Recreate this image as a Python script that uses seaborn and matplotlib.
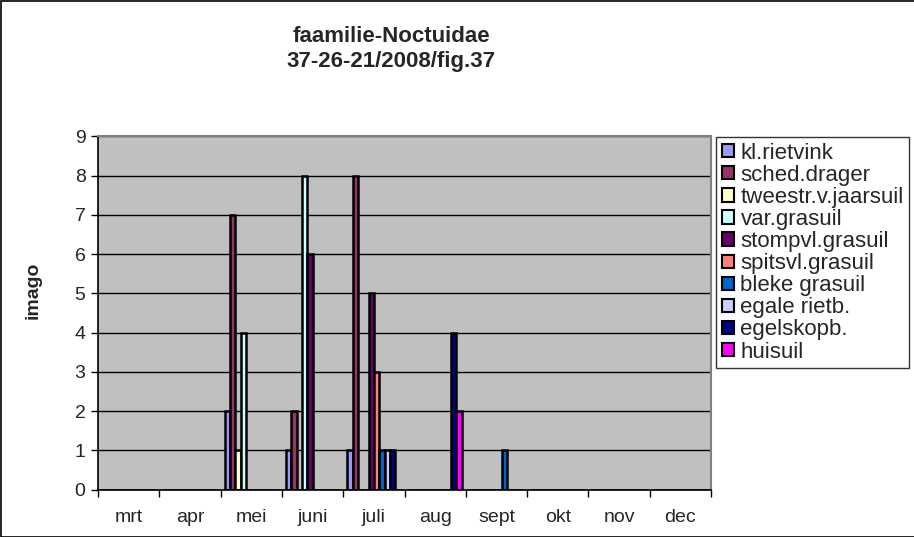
import matplotlib
matplotlib.use("Agg")
import matplotlib.pyplot as plt
import seaborn as sns
import pandas as pd
import numpy as np
from matplotlib.patches import Rectangle

months = ["mrt", "apr", "mei", "juni", "juli", "aug", "sept", "okt", "nov", "dec"]
series = ["kl.rietvink", "sched.drager", "tweestr.v.jaarsuil", "var.grasuil",
          "stompvl.grasuil", "spitsvl.grasuil", "bleke grasuil", "egale rietb.",
          "egelskopb.", "huisuil"]
kl_rietvink   = [0, 0, 2, 1, 1, 0, 0, 0, 0, 0]
sched_drager  = [0, 0, 7, 2, 8, 0, 0, 0, 0, 0]
tweestr       = [0, 0, 1, 0, 0, 0, 0, 0, 0, 0]
var_grasuil   = [0, 0, 4, 8, 0, 0, 0, 0, 0, 0]
stompvl       = [0, 0, 0, 6, 5, 0, 0, 0, 0, 0]
spitsvl       = [0, 0, 0, 0, 3, 0, 0, 0, 0, 0]
bleke         = [0, 0, 0, 0, 1, 0, 1, 0, 0, 0]
egale         = [0, 0, 0, 0, 1, 0, 0, 0, 0, 0]
egelskop      = [0, 0, 0, 0, 1, 4, 0, 0, 0, 0]
huisuil       = [0, 0, 0, 0, 0, 2, 0, 0, 0, 0]
values = [kl_rietvink, sched_drager, tweestr, var_grasuil, stompvl, spitsvl,
          bleke, egale, egelskop, huisuil]
colors = ["#9999FF", "#993366", "#FFFFCC", "#CCFFFF", "#660066", "#FF8080",
          "#0066CC", "#CCCCFF", "#000080", "#FF00FF"]

rows = []
for s, vals in zip(series, values):
    for m, v in zip(months, vals):
        rows.append({"maand": m, "soort": s, "imago": v})
df = pd.DataFrame(rows)

sns.set_theme(style="white")
plt.rcParams["font.family"] = ["Liberation Sans", "DejaVu Sans"]

fig = plt.figure(figsize=(9.14, 5.37), dpi=100)
ax = fig.add_axes([98 / 914, 1 - 489.5 / 537, (711 - 98) / 914, (489.5 - 136.5) / 537])
ax.set_facecolor("#C0C0C0")

sns.barplot(data=df, x="maand", y="imago", hue="soort", order=months,
            hue_order=series, palette=colors, width=10 / 11.5,
            edgecolor="black", linewidth=1.8, saturation=1, ax=ax, legend=False)

ax.set_ylim(0, 9)
ax.set_xlim(-0.5, 9.5)
ax.set_yticks(range(0, 10))
ax.yaxis.grid(True, color="black", linewidth=1.0)
ax.set_axisbelow(True)
ax.tick_params(axis="y", which="major", direction="out", length=5, width=1,
               color="black", labelsize=14, pad=4, left=True)
ax.set_xticks(range(len(months)))
ax.set_xticklabels(months)
ax.tick_params(axis="x", which="major", length=0, labelsize=14, pad=14)
ax.set_xticks(np.arange(-0.5, 10.0, 1.0), minor=True)
ax.tick_params(axis="x", which="minor", direction="out", length=5, width=1,
               color="black", bottom=True)
ax.set_xlabel("")
ax.set_ylabel("")
for side in ["left", "bottom"]:
    ax.spines[side].set_color("black")
    ax.spines[side].set_linewidth(1.2)
for side in ["top", "right"]:
    ax.spines[side].set_color("#808080")
    ax.spines[side].set_linewidth(1.5)
    ax.spines[side].set_visible(True)

fig.text(33 / 914, 1 - 290 / 537, "imago", rotation=90, ha="center", va="center",
         fontsize=14, fontweight="bold")
fig.text(391 / 914, 1 - 37 / 537, "faamilie-Noctuidae", ha="center", va="center",
         fontsize=16, fontweight="bold")
fig.text(391 / 914, 1 - 61 / 537, "37-26-21/2008/fig.37", ha="center", va="center",
         fontsize=16, fontweight="bold")

handles = [Rectangle((0, 0), 1, 1, facecolor=c, edgecolor="black", linewidth=1.5)
           for c in colors]
leg = fig.legend(handles, series, loc="upper left",
                 bbox_to_anchor=(716 / 914, 1 - 137 / 537), bbox_transform=fig.transFigure,
                 fontsize=16, frameon=True, fancybox=False, edgecolor="black",
                 handlelength=0.55, handleheight=0.55, handletextpad=0.3,
                 labelspacing=0.05, borderpad=0.25, borderaxespad=0)
leg.get_frame().set_linewidth(1.0)

fig.patches.append(Rectangle((0.5 / 914, 0.5 / 537), 930 / 914, 536 / 537,
                             transform=fig.transFigure, fill=False,
                             edgecolor="black", linewidth=1.2, clip_on=True))

fig.savefig("out.png", dpi=100)
